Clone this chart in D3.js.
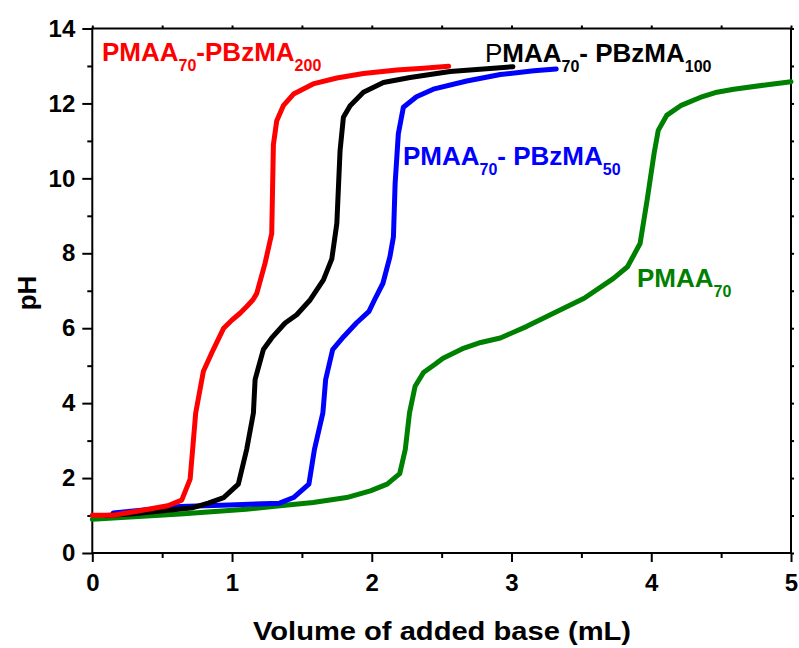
<!DOCTYPE html>
<html><head><meta charset="utf-8">
<script src="https://cdn.jsdelivr.net/npm/d3@7"></script>
<style>
body{margin:0;background:#fff;}
svg text{font-family:"Liberation Sans",Arial,Helvetica,sans-serif;font-weight:bold;}
</style></head>
<body><svg id="c" width="799" height="648"></svg>
<script>
// ---- data ----
const seriesNames = ["PMAA70", "PMAA70-PBzMA50", "PMAA70-PBzMA100", "PMAA70-PBzMA200"];
const seriesColors = ["#008000", "#0000ff", "#000000", "#ff0000"];

const volPMAA = [0, 0.63, 1.1, 1.58, 1.82, 1.99, 2.11, 2.2, 2.24, 2.27, 2.31, 2.37, 2.45, 2.51, 2.66, 2.78, 2.92, 3.11, 3.3, 3.52, 3.73, 3.83, 3.92, 3.97, 4.02, 4.05, 4.11, 4.21, 4.35, 4.47, 4.59, 4.83, 5.0];
const phPMAA  = [0.9, 1.04, 1.17, 1.35, 1.48, 1.66, 1.84, 2.12, 2.77, 3.74, 4.45, 4.82, 5.03, 5.2, 5.47, 5.62, 5.74, 6.05, 6.4, 6.8, 7.33, 7.64, 8.26, 9.41, 10.66, 11.28, 11.68, 11.94, 12.16, 12.3, 12.38, 12.5, 12.58];

const volBz50 = [0.15, 0.63, 0.98, 1.34, 1.44, 1.55, 1.59, 1.65, 1.67, 1.72, 1.8, 1.89, 1.98, 2.02, 2.08, 2.13, 2.155, 2.167, 2.19, 2.226, 2.32, 2.44, 2.68, 2.92, 3.16, 3.32];
const phBz50  = [1.07, 1.24, 1.28, 1.33, 1.48, 1.84, 2.77, 3.74, 4.63, 5.43, 5.78, 6.14, 6.45, 6.76, 7.2, 7.91, 8.44, 9.86, 11.19, 11.9, 12.18, 12.38, 12.6, 12.77, 12.87, 12.92];

const volBz100 = [0.1, 0.3, 0.56, 0.72, 0.83, 0.94, 1.045, 1.105, 1.153, 1.165, 1.224, 1.284, 1.38, 1.463, 1.56, 1.654, 1.714, 1.75, 1.773, 1.797, 1.845, 1.94, 2.083, 2.274, 2.56, 3.01];
const phBz100  = [1.0, 1.05, 1.15, 1.21, 1.33, 1.48, 1.84, 2.77, 3.74, 4.63, 5.43, 5.74, 6.14, 6.36, 6.76, 7.29, 7.85, 8.8, 10.74, 11.63, 11.94, 12.3, 12.56, 12.69, 12.85, 12.98];

const volBz200 = [0, 0.15, 0.34, 0.54, 0.64, 0.7, 0.74, 0.795, 0.866, 0.94, 1.0, 1.057, 1.105, 1.15, 1.177, 1.236, 1.284, 1.296, 1.32, 1.367, 1.44, 1.58, 1.75, 1.94, 2.18, 2.37, 2.55];
const phBz200  = [1.01, 1.01, 1.13, 1.26, 1.41, 1.97, 3.74, 4.85, 5.43, 6.0, 6.22, 6.4, 6.58, 6.76, 6.93, 7.73, 8.53, 10.9, 11.54, 11.94, 12.25, 12.52, 12.68, 12.8, 12.89, 12.94, 12.99];

const seriesVol = [volPMAA, volBz50, volBz100, volBz200];
const seriesPH  = [phPMAA, phBz50, phBz100, phBz200];

const xMajorTicks = [0, 1, 2, 3, 4, 5];
const xMinorTicks = [0.5, 1.5, 2.5, 3.5, 4.5];
const yMajorTicks = [0, 2, 4, 6, 8, 10, 12, 14];
const yMinorTicks = [1, 3, 5, 7, 9, 11, 13];
const xTitle = "Volume of added base (mL)";
const yTitle = "pH";

// ---- layout ----
const svg = d3.select("#c");
const x = d3.scaleLinear().domain([0, 5]).range([92.3, 791]);
const y = d3.scaleLinear().domain([0, 14]).range([553, 28.5]);

const axStyle = g => {
  g.select(".domain").remove();
  g.selectAll("line").attr("stroke", "#000").attr("stroke-width", 2);
  g.selectAll("text").attr("font-size", 24).attr("fill", "#000")
    .attr("font-family", "'Liberation Sans',Arial,sans-serif").attr("font-weight", "bold");
};

// bottom axis
svg.append("g").attr("transform", `translate(0,${y(0)})`)
  .call(d3.axisBottom(x).tickValues(xMajorTicks).tickSize(9).tickPadding(12).tickFormat(d3.format("d")))
  .call(axStyle);
svg.append("g").attr("transform", `translate(0,${y(0)})`)
  .call(d3.axisBottom(x).tickValues(xMinorTicks).tickSize(5).tickFormat(""))
  .call(axStyle);
// left axis
svg.append("g").attr("transform", `translate(${x(0)},0)`)
  .call(d3.axisLeft(y).tickValues(yMajorTicks).tickSize(10).tickPadding(7).tickFormat(d3.format("d")))
  .call(axStyle);
svg.append("g").attr("transform", `translate(${x(0)},0)`)
  .call(d3.axisLeft(y).tickValues(yMinorTicks).tickSize(5).tickFormat(""))
  .call(axStyle);
// top and right axes (small outward ticks)
svg.append("g").attr("transform", `translate(0,${y(14)})`)
  .call(d3.axisTop(x).tickValues(xMajorTicks.concat(xMinorTicks)).tickSize(3).tickFormat(""))
  .call(axStyle);
svg.append("g").attr("transform", `translate(${x(5)},0)`)
  .call(d3.axisRight(y).tickValues(yMajorTicks.concat(yMinorTicks)).tickSize(3).tickFormat(""))
  .call(axStyle);

// frame
svg.append("rect").attr("x", x(0)).attr("y", y(14))
  .attr("width", x(5) - x(0)).attr("height", y(0) - y(14))
  .attr("fill", "none").attr("stroke", "#000").attr("stroke-width", 2);

// curves
const line = d3.line().x(d => x(d[0])).y(d => y(d[1]));
seriesNames.forEach((name, i) => {
  const pts = seriesVol[i].map((v, j) => [v, seriesPH[i][j]]);
  svg.append("path").datum(pts).attr("d", line)
    .attr("fill", "none").attr("stroke", seriesColors[i]).attr("stroke-width", 5)
    .attr("stroke-linejoin", "round").attr("stroke-linecap", "round");
});

// labels
function label(px, py, color, parts) {
  const t = svg.append("text").attr("x", px).attr("y", py).attr("fill", color).attr("font-size", 26);
  let cur = 0;
  parts.forEach(p => {
    const off = p.sub ? 10 : 0;
    const ts = t.append("tspan").text(p.t).attr("dy", off - cur);
    if (p.sub) ts.attr("font-size", 16);
    if (p.normal) ts.attr("font-weight", "normal");
    cur = off;
  });
}
label(102, 61, seriesColors[3], [{t:"PMAA"},{t:"70",sub:true},{t:"-PBzMA"},{t:"200",sub:true}]);
label(485, 62, seriesColors[2], [{t:"P",normal:true},{t:"MAA"},{t:"70",sub:true},{t:"- PBzMA"},{t:"100",sub:true}]);
label(403, 165, seriesColors[1], [{t:"PMAA"},{t:"70",sub:true},{t:"- PBzMA"},{t:"50",sub:true}]);
label(637, 287, seriesColors[0], [{t:"PMAA"},{t:"70",sub:true}]);

// axis titles
svg.append("text").attr("x", 442).attr("y", 640).attr("text-anchor", "middle")
  .attr("font-size", 26).attr("textLength", 378).attr("lengthAdjust", "spacingAndGlyphs").text(xTitle);
svg.append("text").attr("transform", "translate(36,293) rotate(-90)").attr("text-anchor", "middle")
  .attr("font-size", 26).text(yTitle);
</script></body></html>
